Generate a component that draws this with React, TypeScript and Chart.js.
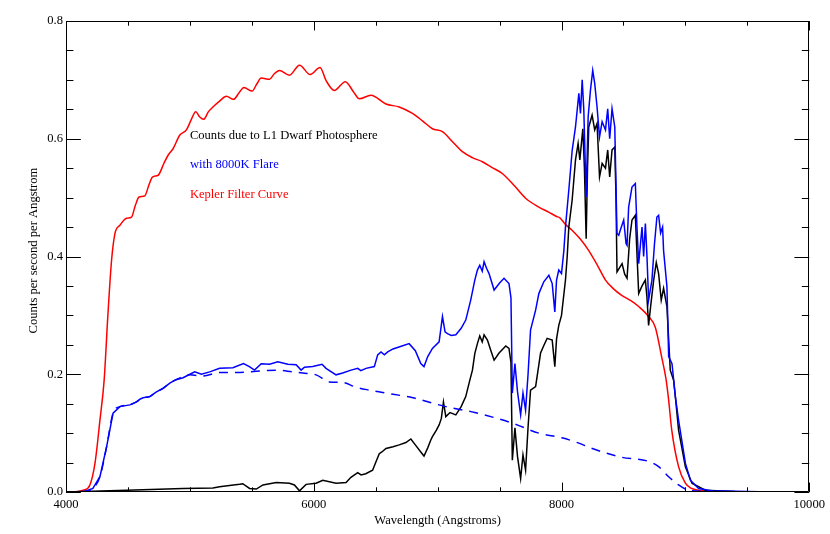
import { useEffect, useRef } from 'react';
import { Chart, registerables } from 'chart.js';

Chart.register(...registerables);

// Kepler filter curve (red)
const keplerWave = [4000, 4100, 4140, 4193, 4234, 4274, 4308, 4338, 4368, 4395, 4435, 4489, 4529, 4560, 4590, 4636, 4670, 4698, 4744, 4790, 4824, 4864, 4918, 4972, 5010, 5047, 5080, 5111, 5150, 5186, 5240, 5294, 5353, 5400, 5436, 5503, 5540, 5576, 5643, 5680, 5723, 5804, 5885, 5971, 6051, 6099, 6166, 6255, 6320, 6368, 6462, 6583, 6690, 6797, 6880, 6958, 7039, 7120, 7200, 7280, 7361, 7440, 7522, 7620, 7710, 7817, 7900, 7960, 7985, 8030, 8083, 8150, 8220, 8290, 8355, 8420, 8486, 8560, 8623, 8703, 8757, 8808, 8845, 8865, 8890, 8945, 9000, 9050, 9107, 9200, 9694];
const keplerCounts = [0.0, 0.001, 0.003, 0.012, 0.049, 0.122, 0.19, 0.3, 0.394, 0.439, 0.453, 0.465, 0.467, 0.487, 0.501, 0.503, 0.522, 0.535, 0.538, 0.558, 0.572, 0.583, 0.606, 0.615, 0.632, 0.646, 0.637, 0.633, 0.646, 0.654, 0.664, 0.672, 0.667, 0.679, 0.687, 0.681, 0.693, 0.703, 0.701, 0.71, 0.716, 0.708, 0.725, 0.709, 0.721, 0.699, 0.682, 0.697, 0.68, 0.668, 0.674, 0.659, 0.654, 0.643, 0.63, 0.617, 0.612, 0.595, 0.578, 0.568, 0.561, 0.551, 0.541, 0.52, 0.499, 0.484, 0.475, 0.468, 0.466, 0.455, 0.445, 0.43, 0.41, 0.385, 0.36, 0.345, 0.334, 0.325, 0.315, 0.298, 0.28, 0.23, 0.19, 0.156, 0.105, 0.043, 0.015, 0.006, 0.003, 0.001, 0.0];

// L1 dwarf photosphere (black)
const dwarfWave = [4000, 4490, 4945, 5186, 5240, 5320, 5401, 5427, 5482, 5536, 5590, 5697, 5804, 5844, 5885, 5938, 6019, 6073, 6180, 6261, 6300, 6355, 6382, 6420, 6475, 6500, 6529, 6550, 6583, 6640, 6690, 6744, 6784, 6820, 6864, 6890, 6920, 6944, 6958, 6990, 7012, 7030, 7047, 7066, 7100, 7147, 7190, 7227, 7260, 7281, 7300, 7321, 7340, 7360, 7375, 7402, 7430, 7456, 7496, 7550, 7576, 7592, 7603, 7624, 7645, 7670, 7689, 7710, 7730, 7750, 7791, 7831, 7860, 7884, 7925, 7946, 7960, 7978, 8000, 8032, 8046, 8059, 8086, 8113, 8134, 8148, 8172, 8185, 8199, 8210, 8220, 8247, 8268, 8287, 8307, 8328, 8355, 8373, 8389, 8408, 8430, 8440, 8448, 8489, 8510, 8529, 8550, 8569, 8596, 8610, 8623, 8650, 8677, 8690, 8703, 8720, 8744, 8765, 8784, 8805, 8824, 8851, 8878, 8905, 8919, 8945, 9000, 9053, 9160, 9400, 9694];
const dwarfCounts = [0, 0.003, 0.006, 0.007, 0.009, 0.011, 0.013, 0.014, 0.006, 0.005, 0.012, 0.016, 0.015, 0.012, 0.002, 0.013, 0.015, 0.02, 0.015, 0.016, 0.025, 0.033, 0.029, 0.031, 0.037, 0.05, 0.065, 0.068, 0.074, 0.077, 0.08, 0.084, 0.09, 0.08, 0.068, 0.061, 0.075, 0.088, 0.094, 0.105, 0.114, 0.125, 0.153, 0.128, 0.135, 0.131, 0.145, 0.162, 0.19, 0.207, 0.235, 0.252, 0.265, 0.255, 0.267, 0.258, 0.24, 0.224, 0.236, 0.248, 0.244, 0.22, 0.054, 0.109, 0.06, 0.023, 0.063, 0.037, 0.11, 0.173, 0.179, 0.236, 0.25, 0.261, 0.258, 0.213, 0.26, 0.283, 0.3, 0.36, 0.4, 0.45, 0.496, 0.564, 0.592, 0.564, 0.617, 0.55, 0.43, 0.55, 0.62, 0.64, 0.615, 0.626, 0.535, 0.558, 0.55, 0.581, 0.535, 0.581, 0.586, 0.5, 0.374, 0.388, 0.37, 0.363, 0.43, 0.462, 0.47, 0.4, 0.337, 0.35, 0.36, 0.33, 0.283, 0.316, 0.36, 0.39, 0.371, 0.326, 0.346, 0.315, 0.207, 0.19, 0.162, 0.105, 0.043, 0.015, 0.003, 0.001, 0];

// Dwarf + 8000K flare (blue solid)
const flareWave = [4000, 4150, 4217, 4274, 4328, 4380, 4435, 4515, 4569, 4600, 4622, 4676, 4730, 4783, 4838, 4880, 4945, 5000, 5039, 5093, 5160, 5240, 5347, 5433, 5480, 5522, 5576, 5643, 5710, 5791, 5858, 5898, 5925, 5992, 6067, 6099, 6180, 6233, 6301, 6355, 6380, 6422, 6489, 6516, 6543, 6570, 6597, 6640, 6700, 6770, 6820, 6864, 6890, 6920, 6958, 7012, 7039, 7060, 7079, 7110, 7147, 7190, 7227, 7267, 7300, 7321, 7340, 7360, 7375, 7395, 7415, 7456, 7500, 7536, 7576, 7592, 7603, 7624, 7645, 7670, 7689, 7710, 7730, 7750, 7791, 7817, 7857, 7898, 7925, 7946, 7960, 7978, 8000, 8019, 8032, 8059, 8086, 8113, 8140, 8153, 8167, 8180, 8199, 8215, 8234, 8252, 8268, 8287, 8307, 8328, 8355, 8373, 8389, 8408, 8430, 8448, 8462, 8475, 8502, 8521, 8529, 8542, 8569, 8596, 8609, 8623, 8650, 8663, 8677, 8690, 8703, 8730, 8750, 8770, 8784, 8800, 8816, 8824, 8851, 8865, 8892, 8919, 8945, 9000, 9040, 9107, 9212, 9694];
const flareCounts = [0, 0.001, 0.006, 0.026, 0.077, 0.134, 0.145, 0.148, 0.153, 0.158, 0.16, 0.162, 0.17, 0.176, 0.185, 0.19, 0.194, 0.2, 0.204, 0.2, 0.204, 0.21, 0.211, 0.218, 0.213, 0.207, 0.218, 0.217, 0.221, 0.217, 0.216, 0.207, 0.212, 0.213, 0.217, 0.21, 0.199, 0.202, 0.207, 0.21, 0.206, 0.21, 0.213, 0.233, 0.238, 0.233, 0.238, 0.243, 0.247, 0.252, 0.24, 0.218, 0.213, 0.23, 0.244, 0.255, 0.298, 0.272, 0.269, 0.266, 0.267, 0.278, 0.292, 0.326, 0.36, 0.377, 0.385, 0.375, 0.391, 0.38, 0.371, 0.343, 0.355, 0.363, 0.354, 0.33, 0.168, 0.218, 0.17, 0.131, 0.168, 0.139, 0.2, 0.275, 0.309, 0.337, 0.357, 0.368, 0.354, 0.306, 0.36, 0.377, 0.371, 0.41, 0.45, 0.513, 0.58, 0.62, 0.677, 0.643, 0.7, 0.649, 0.501, 0.637, 0.683, 0.716, 0.694, 0.654, 0.603, 0.629, 0.615, 0.651, 0.6, 0.651, 0.62, 0.439, 0.436, 0.445, 0.462, 0.422, 0.419, 0.484, 0.518, 0.524, 0.45, 0.388, 0.45, 0.4, 0.456, 0.4, 0.326, 0.36, 0.42, 0.467, 0.47, 0.44, 0.45, 0.41, 0.349, 0.23, 0.218, 0.162, 0.122, 0.049, 0.02, 0.006, 0.002, 0];

// 8000K flare alone (blue dashed)
const flareOnlyWave = [4000, 4150, 4217, 4274, 4328, 4380, 4435, 4515, 4569, 4622, 4676, 4730, 4783, 4838, 4900, 4999, 5106, 5240, 5374, 5536, 5697, 5831, 5912, 6019, 6126, 6233, 6341, 6450, 6556, 6800, 7066, 7300, 7603, 7817, 8003, 8140, 8220, 8486, 8703, 8784, 8865, 8945, 9026, 9150, 9694];
const flareOnlyCounts = [0, 0.001, 0.006, 0.026, 0.077, 0.134, 0.145, 0.148, 0.153, 0.16, 0.162, 0.17, 0.176, 0.185, 0.192, 0.199, 0.197, 0.203, 0.203, 0.205, 0.207, 0.204, 0.202, 0.199, 0.187, 0.186, 0.178, 0.173, 0.169, 0.16, 0.145, 0.135, 0.117, 0.1, 0.092, 0.083, 0.076, 0.059, 0.052, 0.043, 0.026, 0.012, 0.003, 0.001, 0];

const xMajorTicks = [4000, 6000, 8000, 10000];
const xMinorStep = 500;
const yMajorTicks = [0, 0.2, 0.4, 0.6, 0.8];
const yMinorStep = 0.05;

const legendLabels = ['Counts due to L1 Dwarf Photosphere', 'with 8000K Flare', 'Kepler Filter Curve'];
const legendColors = ['#000000', '#0000ff', '#ff0000'];
const legendAnchorX = 5000;
const legendAnchorY = [0.6, 0.55, 0.5];

const xTitle = 'Wavelength (Angstroms)';
const yTitle = 'Counts per second per Angstrom';

const FONT = '"Liberation Serif", "DejaVu Serif", serif';
const FONT_SIZE = 12.6;

function pts(xs: number[], ys: number[]) {
  return xs.map((x, i) => ({ x, y: ys[i] }));
}

const framePlugin = {
  id: 'idlFrame',
  afterDraw(chart: any) {
    const { ctx, chartArea, scales } = chart;
    const xs = scales.x;
    const ys = scales.y;
    const L = chartArea.left, R = chartArea.right, T = chartArea.top, B = chartArea.bottom;
    const w = R - L, h = B - T;
    ctx.save();
    ctx.strokeStyle = '#000';
    ctx.lineWidth = 1;
    ctx.beginPath();
    ctx.rect(Math.round(L) + 0.5, Math.round(T) + 0.5, Math.round(w) - 1, Math.round(h) - 1);
    ctx.stroke();

    const xMaj = 0.02 * h, xMin = 0.01 * h;
    const yMaj = 0.02 * w, yMin = 0.01 * w;
    ctx.beginPath();
    for (let v = xMajorTicks[0]; v <= xMajorTicks[xMajorTicks.length - 1] + 1e-6; v += xMinorStep) {
      const px = Math.round(xs.getPixelForValue(v)) + 0.5;
      const major = xMajorTicks.includes(v);
      const len = major ? xMaj : xMin;
      ctx.moveTo(px, B); ctx.lineTo(px, B - len);
      ctx.moveTo(px, T); ctx.lineTo(px, T + len);
    }
    const nY = Math.round((yMajorTicks[yMajorTicks.length - 1] - yMajorTicks[0]) / yMinorStep);
    for (let i = 0; i <= nY; i++) {
      const v = yMajorTicks[0] + i * yMinorStep;
      const py = Math.round(ys.getPixelForValue(v)) + 0.5;
      const major = i % 4 === 0;
      const len = major ? yMaj : yMin;
      ctx.moveTo(L, py); ctx.lineTo(L + len, py);
      ctx.moveTo(R, py); ctx.lineTo(R - len, py);
    }
    ctx.stroke();

    // legend texts in data coordinates
    ctx.font = `${FONT_SIZE}px ${FONT}`;
    ctx.textAlign = 'left';
    ctx.textBaseline = 'alphabetic';
    legendLabels.forEach((t, i) => {
      ctx.fillStyle = legendColors[i];
      ctx.fillText(t, xs.getPixelForValue(legendAnchorX), ys.getPixelForValue(legendAnchorY[i]));
    });

    // axis titles
    ctx.fillStyle = '#000';
    ctx.textAlign = 'center';
    ctx.fillText(xTitle, (L + R) / 2, 524);
    ctx.save();
    ctx.translate(37, (T + B) / 2 - 6);
    ctx.rotate(-Math.PI / 2);
    ctx.fillText(yTitle, 0, 0);
    ctx.restore();
    ctx.restore();
  },
};

export default function App() {
  const ref = useRef<HTMLCanvasElement | null>(null);
  useEffect(() => {
    document.body.style.margin = '0';
    const canvas = ref.current;
    if (!canvas) return;
    const chart = new Chart(canvas, {
      type: 'line',
      data: {
        datasets: [
          {
            label: 'with 8000K Flare',
            data: pts(flareWave, flareCounts),
            borderColor: '#0000ff',
            borderWidth: 1.5,
            pointRadius: 0,
            tension: 0,
            order: 1,
          },
          {
            label: '8000K Flare only',
            data: pts(flareOnlyWave, flareOnlyCounts),
            borderColor: '#0000ff',
            borderWidth: 1.5,
            borderDash: [9, 7],
            pointRadius: 0,
            cubicInterpolationMode: 'monotone',
            order: 2,
          },
          {
            label: 'Counts due to L1 Dwarf Photosphere',
            data: pts(dwarfWave, dwarfCounts),
            borderColor: '#000000',
            borderWidth: 1.5,
            pointRadius: 0,
            tension: 0,
            order: 3,
          },
          {
            label: 'Kepler Filter Curve',
            data: pts(keplerWave, keplerCounts),
            borderColor: '#ff0000',
            borderWidth: 1.5,
            pointRadius: 0,
            cubicInterpolationMode: 'monotone',
            order: 4,
          },
        ],
      },
      options: {
        animation: false,
        responsive: true,
        maintainAspectRatio: false,
        parsing: false,
        layout: { padding: { top: 21, right: 19, left: 0, bottom: 0 } },
        plugins: { legend: { display: false }, tooltip: { enabled: false } },
        scales: {
          x: {
            type: 'linear',
            min: 4000,
            max: 10000,
            afterFit: (s: any) => { s.height = 42; },
            afterBuildTicks: (s: any) => { s.ticks = xMajorTicks.map((v) => ({ value: v })); },
            ticks: {
              autoSkip: false,
              maxRotation: 0,
              padding: 5,
              color: '#000',
              font: { family: FONT, size: FONT_SIZE },
              callback: (v: any) => String(v),
            },
            grid: { display: false, drawTicks: false },
            border: { display: false },
          },
          y: {
            type: 'linear',
            min: 0,
            max: 0.8,
            afterFit: (s: any) => { s.width = 66; },
            afterBuildTicks: (s: any) => { s.ticks = yMajorTicks.map((v) => ({ value: v })); },
            ticks: {
              autoSkip: false,
              padding: 3,
              color: '#000',
              font: { family: FONT, size: FONT_SIZE },
              callback: (v: any) => Number(v).toFixed(1),
            },
            grid: { display: false, drawTicks: false },
            border: { display: false },
          },
        },
      },
      plugins: [framePlugin],
    } as any);
    return () => chart.destroy();
  }, []);
  return (
    <div style={{ position: 'fixed', left: 0, top: 0, width: 830, height: 534, background: '#fff' }}>
      <canvas ref={ref} />
    </div>
  );
}
